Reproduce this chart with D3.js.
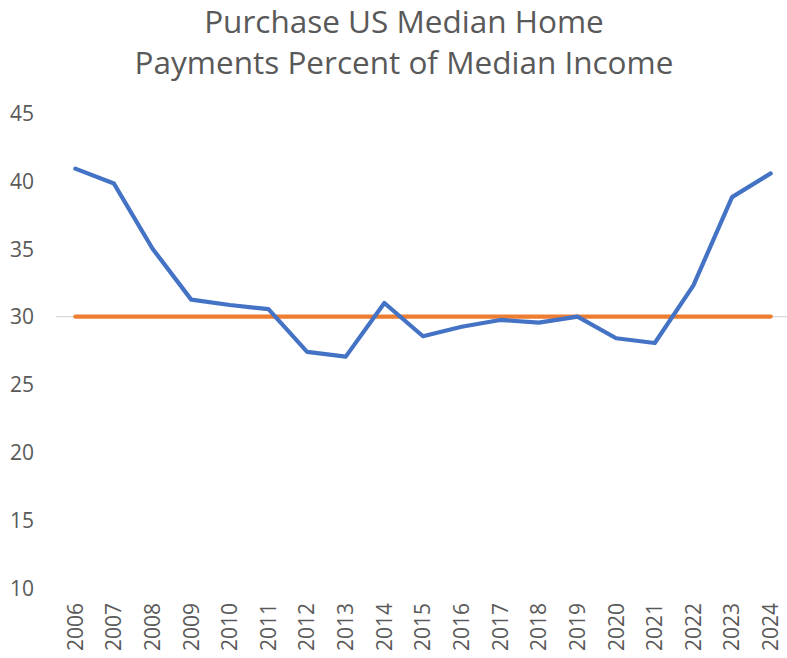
<!DOCTYPE html>
<html>
<head>
<meta charset="utf-8">
<script src="https://cdn.jsdelivr.net/npm/d3@7"></script>
<style>
  html, body { margin: 0; padding: 0; background: #fff; }
  svg { display: block; }
</style>
</head>
<body>
<svg id="chart" width="787" height="658"></svg>
<script>
const titleLines = ["Purchase US Median Home", "Payments Percent of Median Income"];
const years = ["2006","2007","2008","2009","2010","2011","2012","2013","2014","2015","2016","2017","2018","2019","2020","2021","2022","2023","2024"];
const paymentPct = [40.9, 39.8, 35.0, 31.25, 30.85, 30.55, 27.4, 27.05, 31.0, 28.55, 29.25, 29.75, 29.55, 30.0, 28.4, 28.05, 32.3, 38.8, 40.55];
const thresholdPct = [30,30,30,30,30,30,30,30,30,30,30,30,30,30,30,30,30,30,30];
const yTicks = [10, 15, 20, 25, 30, 35, 40, 45];

const svg = d3.select("#chart");
const font = "'Open Sans', 'Liberation Sans', sans-serif";
const textColor = "#595959";

const x = d3.scaleBand().domain(years).range([56, 790]);
const y = d3.scaleLinear().domain([10, 45]).range([588, 113]);
const cx = d => x(d) + x.bandwidth() / 2;

// title
svg.append("g").selectAll("text").data(titleLines).join("text")
  .attr("x", 404)
  .attr("y", (d, i) => 33 + i * 41)
  .attr("text-anchor", "middle")
  .attr("font-family", font)
  .attr("font-size", 31.5)
  .attr("fill", textColor)
  .text(d => d);

// y axis
const yAxis = d3.axisLeft(y).tickValues(yTicks).tickSize(0).tickPadding(0);
const gy = svg.append("g").attr("transform", "translate(34,0)").call(yAxis);
gy.select(".domain").remove();
gy.selectAll("text")
  .attr("font-family", font).attr("font-size", 21).attr("fill", textColor)
  .attr("dy", "0.35em");

// reference gridline at 30
svg.append("line")
  .attr("x1", 56).attr("x2", 787)
  .attr("y1", y(30)).attr("y2", y(30))
  .attr("stroke", "#d9d9d9").attr("stroke-width", 1.2);

// x axis labels
const xAxis = d3.axisBottom(x).tickSize(0).tickPadding(0);
const gx = svg.append("g").call(xAxis);
gx.select(".domain").remove();
gx.selectAll(".tick").attr("transform", d => `translate(${cx(d)},651)`);
gx.selectAll("text")
  .attr("font-family", font).attr("font-size", 21).attr("fill", textColor)
  .attr("transform", "rotate(-90)")
  .attr("text-anchor", "start")
  .attr("x", 0).attr("y", 0).attr("dy", "0.35em");

const line = d3.line().x((d, i) => cx(years[i])).y(d => y(d));

svg.append("path").datum(thresholdPct)
  .attr("d", line)
  .attr("fill", "none")
  .attr("stroke", "#ED7D31")
  .attr("stroke-width", 4.2)
  .attr("stroke-linecap", "round");

svg.append("path").datum(paymentPct)
  .attr("d", line)
  .attr("fill", "none")
  .attr("stroke", "#4472C4")
  .attr("stroke-width", 4.2)
  .attr("stroke-linecap", "round")
  .attr("stroke-linejoin", "round");
</script>
</body>
</html>
